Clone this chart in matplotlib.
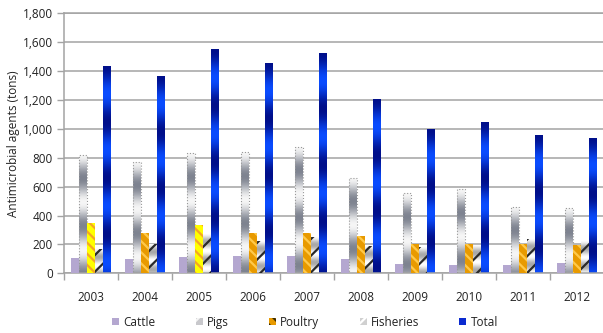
import numpy as np
import matplotlib
matplotlib.use('Agg')
import matplotlib.pyplot as plt
from matplotlib.patches import Patch

plt.rcParams['font.family'] = ['Open Sans', 'DejaVu Sans']
plt.rcParams['hatch.linewidth'] = 1.6

years = ['2003', '2004', '2005', '2006', '2007', '2008', '2009', '2010', '2011', '2012']
cattle = [108, 97, 113, 120, 120, 101, 62, 57, 57, 69]
pigs = [817, 770, 830, 837, 876, 660, 553, 581, 461, 450]
poultry = [346, 281, 334, 281, 281, 256, 205, 203, 201, 196]
fisheries = [170, 205, 270, 226, 250, 190, 180, 196, 237, 228]
total = [1435, 1366, 1550, 1458, 1527, 1208, 996, 1045, 957, 936]
yticks = [0, 200, 400, 600, 800, 1000, 1200, 1400, 1600, 1800]

GRID = '#a3a3a3'
x = np.arange(len(years))
w = 0.148

fig = plt.figure(figsize=(6.03, 3.33), dpi=100)
ax = fig.add_axes([0.106, 0.179, 0.895, 0.781])


def gradient(ax, bars, c1, c2, period, phase=0.0):
    # fill each bar with a banded gradient (relative to bar top), clipped to the bar
    for b in bars:
        x0, y0 = b.get_x(), b.get_y()
        x1, y1 = x0 + b.get_width(), y0 + b.get_height()
        ys = np.linspace(y0, y1, 200)
        t = 0.5 + 0.5 * np.cos(2 * np.pi * (y1 - ys) / period + phase)
        c1a, c2a = np.array(matplotlib.colors.to_rgb(c1)), np.array(matplotlib.colors.to_rgb(c2))
        img = (t[:, None] * c1a + (1 - t[:, None]) * c2a)[:, None, :]
        im = ax.imshow(img, extent=[x0, x1, y0, y1], origin='lower', aspect='auto',
                       zorder=2, interpolation='bilinear')
        im.set_clip_path(b)


# cattle
ax.bar(x - 2 * w, cattle, w, color='#b4a7d0', zorder=3)

# pigs: grey/white banded gradient with dotted outline
b_pigs = ax.bar(x - w, pigs, w, facecolor='none', edgecolor='#9a9a9a', linewidth=0.8,
                linestyle=':', zorder=3)
gradient(ax, b_pigs, '#f6f6f6', '#7e8390', 330)

# poultry: yellow for 2003/2005, orange otherwise, striped
p_face = ['#ffff00' if y in ('2003', '2005') else '#e89a00' for y in years]
p_hatch = ['#f5a623' if y in ('2003', '2005') else '#ffc94a' for y in years]
for i in range(len(years)):
    ax.bar(x[i], poultry[i], w, facecolor=p_face[i], edgecolor=p_hatch[i], linewidth=0,
           hatch='\\\\\\', zorder=3)

# fisheries: light gradient with dark diagonal stripes
b_fish = ax.bar(x + w, fisheries, w, facecolor='none', edgecolor='#2a2a2a', linewidth=0,
                hatch='//', zorder=3)
gradient(ax, b_fish, '#ffffff', '#a8a8a8', 120)

# total: blue banded gradient
b_tot = ax.bar(x + 2 * w, total, w, facecolor='none', edgecolor='none', zorder=3)
gradient(ax, b_tot, '#000f8a', '#0a4cff', 390)

ax.set_xlim(-0.5, len(years) - 0.5)
ax.set_ylim(0, 1800)
ax.set_yticks(yticks)
ax.set_yticklabels([f'{v:,}' for v in yticks], fontsize=8.5, color='#222222')
ax.set_xticks(x)
ax.set_xticklabels(years, fontsize=8.5, color='#222222')
ax.set_xticks(np.arange(-0.5, len(years)), minor=True)
ax.tick_params(axis='x', which='major', length=0, pad=13)
ax.tick_params(axis='x', which='minor', length=5, color=GRID, width=1)
ax.tick_params(axis='y', length=5, color=GRID, width=1, pad=3)
ax.yaxis.grid(True, color=GRID, linewidth=1.1)
ax.set_axisbelow(True)
for s in ['left', 'bottom', 'top']:
    ax.spines[s].set_color(GRID)
    ax.spines[s].set_linewidth(1.1)
ax.spines['right'].set_visible(False)

ax.set_ylabel('Antimicrobial agents (tons)', fontsize=8.5, color='#222222', labelpad=2)

handles = [
    Patch(facecolor='#b4a7d0', label='Cattle'),
    Patch(facecolor='#c8c8cc', edgecolor='#f4f4f4', linewidth=0, hatch='//', label='Pigs'),
    Patch(facecolor='#e89a00', edgecolor='#3a2a00', linewidth=0, hatch='\\\\\\', label='Poultry'),
    Patch(facecolor='#d0d0d0', edgecolor='#ffffff', linewidth=0, hatch='//', label='Fisheries'),
    Patch(facecolor='#0a2ad0', label='Total'),
]
fig.legend(handles=handles, loc='center', bbox_to_anchor=(0.506, 0.033), ncol=5,
           frameon=False, fontsize=8.5, handlelength=0.6, handleheight=0.6,
           handletextpad=0.35, columnspacing=3.4, labelcolor='#222222')

fig.savefig('out.png', dpi=100)
